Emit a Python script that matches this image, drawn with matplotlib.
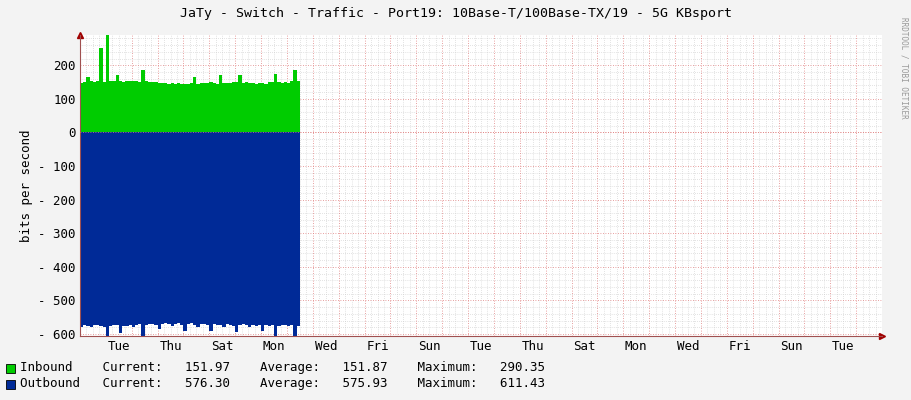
import matplotlib
matplotlib.use("Agg")
import matplotlib.pyplot as plt
import numpy as np

# time in days since start, sampled every 3 hours
days = [i / 8 for i in range(69)]
inbound = [148, 150, 165, 152, 150, 152, 250, 150, 290, 152, 153, 170, 152, 151, 153, 152,
           153, 152, 150, 185, 152, 150, 149, 150, 148, 146, 147, 145, 148, 144, 146, 145,
           145, 144, 146, 166, 145, 147, 146, 148, 150, 147, 145, 170, 146, 148, 147, 149,
           150, 172, 148, 150, 146, 148, 145, 147, 146, 145, 150, 149, 175, 150, 147, 150,
           148, 152, 185, 152, 152]
outbound = [-580, -572, -575, -578, -574, -572, -576, -580, -605, -575, -572, -573, -598, -577, -575, -573,
            -580, -574, -570, -606, -572, -570, -571, -574, -585, -570, -568, -570, -575, -570, -568, -572,
            -590, -570, -568, -572, -580, -571, -570, -573, -590, -570, -572, -574, -578, -570, -572, -575,
            -595, -572, -570, -574, -578, -573, -575, -574, -590, -573, -575, -572, -611, -575, -572, -573,
            -576, -574, -608, -575, -576]
xlabels = ["Tue", "Thu", "Sat", "Mon", "Wed", "Fri", "Sun", "Tue", "Thu", "Sat", "Mon", "Wed", "Fri", "Sun", "Tue"]

fig = plt.figure(figsize=(9.11, 4.0), dpi=100, facecolor="#f3f3f3")
ax = fig.add_axes([80/911, 64/400, 802/911, 301/400], facecolor="white")
mono = "DejaVu Sans Mono"

ax.fill_between(days, 0, inbound, color="#00cc00", step="post", lw=0)
ax.fill_between(days, 0, outbound, color="#002a97", step="post", lw=0)

ax.set_xlim(0, 31)
ax.set_ylim(-606, 290)
for d in np.arange(0, 31.01, 0.25):
    if abs(d - round(d)) < 1e-6:
        ax.axvline(d, color="#e08080", lw=0.6, ls=(0, (1, 2)), zorder=0.5)
    else:
        ax.axvline(d, color="#c8c8c8", lw=0.5, ls=(0, (1, 2)), zorder=0.4)
for v in range(-600, 291, 20):
    if v % 100 == 0:
        ax.axhline(v, color="#e08080", lw=0.6, ls=(0, (1, 2)), zorder=0.5)
    else:
        ax.axhline(v, color="#c8c8c8", lw=0.5, ls=(0, (1, 2)), zorder=0.4)
ax.axhline(0, color="#e08080", lw=0.6, ls=(0, (1, 2)), zorder=3)

ax.set_xticks([1.5 + 2 * i for i in range(len(xlabels))])
ax.set_xticklabels(xlabels, fontsize=9, family=mono)
ax.set_yticks(range(-600, 201, 100))
ax.set_yticklabels([str(v).replace("-", "- ") if v < 0 else str(v) for v in range(-600, 201, 100)],
                   fontsize=9, family=mono)
ax.tick_params(length=0, pad=3)
for s in ["top", "right"]:
    ax.spines[s].set_visible(False)
ax.spines["left"].set_color("#a05050")
ax.spines["bottom"].set_color("#a05050")
ax.plot([0], [290], marker="^", color="#a00000", ms=5, clip_on=False, transform=ax.transData)
ax.plot([31], [-606], marker=">", color="#a00000", ms=5, clip_on=False)
ax.set_ylabel("bits per second", fontsize=9, family=mono)

fig.text(0.5, 0.965, "JaTy - Switch - Traffic - Port19: 10Base-T/100Base-TX/19 - 5G KBsport",
         ha="center", va="center", fontsize=9.5, family=mono)
fig.text(0.992, 0.83, "RRDTOOL / TOBI OETIKER", rotation=270, ha="center", va="center",
         fontsize=5.5, color="#999999", family=mono)

for i, (name, col, cur, avg, mx) in enumerate([
        ("Inbound ", "#00cc00", "151.97", "151.87", "290.35"),
        ("Outbound", "#002a97", "576.30", "575.93", "611.43")]):
    y = 368 + i * 16
    fig.patches.append(plt.Rectangle((6/911, 1 - (y + 5)/400), 9/911, 9/400, transform=fig.transFigure,
                                     facecolor=col, edgecolor="black", lw=0.6))
    fig.text(20/911, 1 - y/400, f"{name}   Current:   {cur}    Average:   {avg}    Maximum:   {mx}",
             ha="left", va="center", fontsize=9, family=mono)

fig.savefig("out.png", dpi=100, facecolor=fig.get_facecolor())
